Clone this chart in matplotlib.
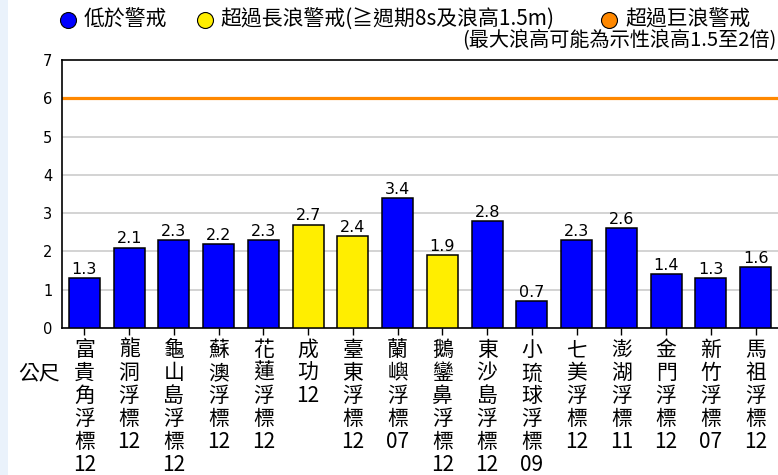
import matplotlib.pyplot as plt
from matplotlib.lines import Line2D
from matplotlib.patches import Rectangle

plt.rcParams['font.family'] = ['Noto Sans CJK TC', 'DejaVu Sans']

# 各浮標站名、時間與浪高(公尺)
stations = ['富貴角浮標', '龍洞浮標', '龜山島浮標', '蘇澳浮標', '花蓮浮標', '成功',
            '臺東浮標', '蘭嶼浮標', '鵝鑾鼻浮標', '東沙島浮標', '小琉球浮標', '七美浮標',
            '澎湖浮標', '金門浮標', '新竹浮標', '馬祖浮標']
hours = ['12', '12', '12', '12', '12', '12', '12', '07', '12', '12', '09', '12',
         '11', '12', '07', '12']
heights = [1.3, 2.1, 2.3, 2.2, 2.3, 2.7, 2.4, 3.4, 1.9, 2.8, 0.7, 2.3, 2.6, 1.4, 1.3, 1.6]
# 0 = 低於警戒, 1 = 超過長浪警戒
levels = [0, 0, 0, 0, 0, 1, 1, 0, 1, 0, 0, 0, 0, 0, 0, 0]
warn_line = 6

level_colors = ['#0000FF', '#FFEE00', '#FF8800']
legend_texts = ['低於警戒', '超過長浪警戒(≧週期8s及浪高1.5m)', '超過巨浪警戒']

W, H = 778, 475
fig = plt.figure(figsize=(W / 100, H / 100), dpi=100)
fig.add_artist(Rectangle((0, 0), 8 / W, 1, transform=fig.transFigure,
                         color='#EAF2FB', zorder=-1, lw=0))

ax = fig.add_axes([62 / W, 1 - 328 / H, 716 / W, 268 / H])
x = list(range(len(heights)))
colors = [level_colors[l] for l in levels]
ax.bar(x, heights, width=0.69, color=colors, edgecolor='black', linewidth=1.1, zorder=3)

for xi, h in zip(x, heights):
    ax.text(xi, h + 0.03, f'{h:.1f}', ha='center', va='bottom', fontsize=11.5,
            family='DejaVu Sans', zorder=4)

for g in range(1, 6):
    ax.axhline(g, color='#CCCCCC', linewidth=1.2, zorder=1)
ax.axhline(warn_line, color=level_colors[2], linewidth=2.3, zorder=2)

ax.set_xlim(-0.5, len(heights) - 0.5)
ax.set_ylim(0, 7)
ax.set_yticks(range(0, 8))
ax.tick_params(axis='y', length=0, pad=7, labelsize=10.5)
for t in ax.get_yticklabels():
    t.set_family('DejaVu Sans')

labels = ['\n'.join(list(s)) + '\n' + hr for s, hr in zip(stations, hours)]
ax.set_xticks(x)
ax.set_xticklabels(labels, fontsize=15, linespacing=1.06)
ax.tick_params(axis='x', length=5, width=1, pad=3, direction='out')

for side in ['left', 'top', 'bottom']:
    ax.spines[side].set_linewidth(1.2)
ax.spines['right'].set_visible(False)

fig.text(60 / W, 1 - 373 / H, '公尺', ha='right', va='center', fontsize=15)

# 圖例
leg_y = 1 - 20 / H
for cx, tx, c, s in zip([68, 205, 609], [84, 220, 625], level_colors, legend_texts):
    fig.add_artist(Line2D([cx / W], [leg_y], marker='o', markersize=11.5,
                          markerfacecolor=c, markeredgecolor='black',
                          markeredgewidth=0.8, transform=fig.transFigure))
    fig.text(tx / W, leg_y, s, ha='left', va='center', fontsize=15)
fig.text(777 / W, 1 - 40 / H, '(最大浪高可能為示性浪高1.5至2倍)', ha='right',
         va='center', fontsize=14.5)

fig.savefig('out.png', dpi=100)
